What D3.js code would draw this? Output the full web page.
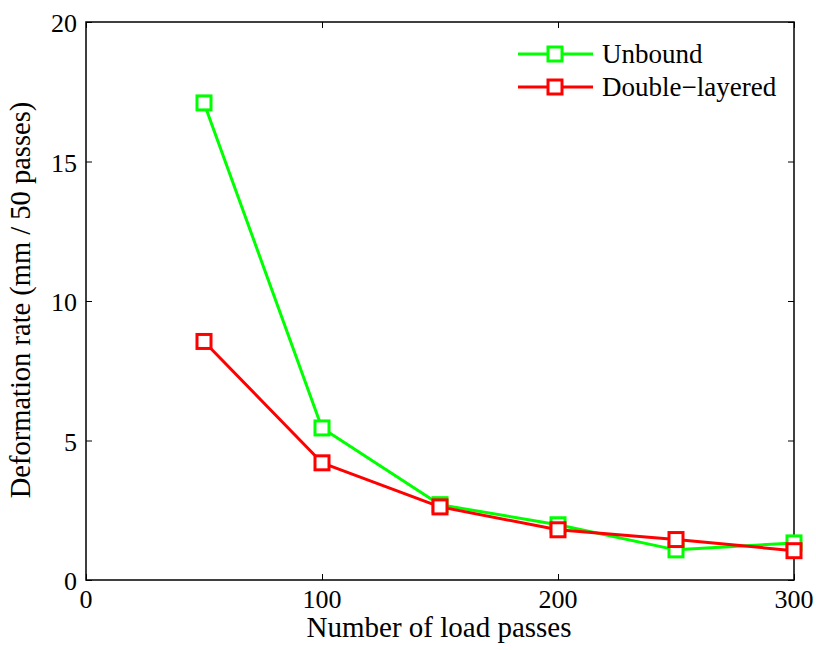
<!DOCTYPE html>
<html><head><meta charset="utf-8">
<script src="https://cdn.jsdelivr.net/npm/d3@7"></script>
<style>body{margin:0;background:#fff;}</style>
</head><body>
<svg id="c" width="816" height="650" font-family="'Liberation Serif', 'Times New Roman', Times, serif"></svg>
<script>
const passes = [50, 100, 150, 200, 250, 300];
const unbound = [17.1, 5.45, 2.7, 1.98, 1.08, 1.33];
const doubleLayered = [8.55, 4.2, 2.62, 1.8, 1.45, 1.05];
const xTicks = [0, 100, 200, 300];
const yTicks = [0, 5, 10, 15, 20];
const seriesNames = ["Unbound", "Double\u2212layered"];
const seriesColors = ["#00ff00", "#ff0000"];

const FONT = "'Liberation Serif', 'Times New Roman', Times, serif";
const svg = d3.select("#c");
const L = 86, R = 794, T = 22, B = 580;
const x = d3.scaleLinear().domain([0, 300]).range([L, R]);
const y = d3.scaleLinear().domain([0, 20]).range([B, T]);

svg.append("rect").attr("width", 816).attr("height", 650).attr("fill", "#fff");

const g = svg.append("g");
const tl = 6;
g.append("g").attr("transform", `translate(0,${B})`)
  .call(d3.axisBottom(x).tickValues(xTicks).tickSize(-tl).tickSizeOuter(0).tickFormat(""))
  .call(a => a.select(".domain").remove());
g.append("g").attr("transform", `translate(0,${T})`)
  .call(d3.axisTop(x).tickValues(xTicks).tickSize(-tl).tickSizeOuter(0).tickFormat(""))
  .call(a => a.select(".domain").remove());
g.append("g").attr("transform", `translate(${L},0)`)
  .call(d3.axisLeft(y).tickValues(yTicks).tickSize(-tl).tickSizeOuter(0).tickFormat(""))
  .call(a => a.select(".domain").remove());
g.append("g").attr("transform", `translate(${R},0)`)
  .call(d3.axisRight(y).tickValues(yTicks).tickSize(-tl).tickSizeOuter(0).tickFormat(""))
  .call(a => a.select(".domain").remove());
g.selectAll(".tick line").attr("stroke", "#000").attr("stroke-width", 1);

svg.append("rect").attr("x", L).attr("y", T).attr("width", R - L).attr("height", B - T)
  .attr("fill", "none").attr("stroke", "#000").attr("stroke-width", 1.5);

const txt = (sel, fs) => sel.attr("font-family", FONT).attr("font-size", fs).attr("fill", "#000");

svg.selectAll(".xl").data(xTicks).enter().append("text")
  .attr("x", d => x(d)).attr("y", 608).attr("text-anchor", "middle")
  .call(txt, 26).text(d => d);
svg.selectAll(".yl").data(yTicks).enter().append("text")
  .attr("x", 77).attr("y", d => y(d) + 10).attr("text-anchor", "end")
  .call(txt, 26).text(d => d);

svg.append("text").attr("x", 439).attr("y", 637).attr("text-anchor", "middle")
  .call(txt, 29).text("Number of load passes");
svg.append("text").attr("transform", "translate(30,300) rotate(-90)").attr("text-anchor", "middle")
  .call(txt, 28.5).text("Deformation rate (mm / 50 passes)");

const allSeries = [unbound, doubleLayered];
const line = d3.line().x((d, i) => x(passes[i])).y(d => y(d));
const ms = 14;
allSeries.forEach((s, k) => {
  svg.append("path").datum(s).attr("d", line).attr("fill", "none")
    .attr("stroke", seriesColors[k]).attr("stroke-width", 3).attr("stroke-linejoin", "round");
  svg.selectAll(".m" + k).data(s).enter().append("rect")
    .attr("x", (d, i) => x(passes[i]) - ms / 2).attr("y", d => y(d) - ms / 2)
    .attr("width", ms).attr("height", ms).attr("fill", "#fff")
    .attr("stroke", seriesColors[k]).attr("stroke-width", 3);
});

seriesNames.forEach((n, k) => {
  const ly = 54 + k * 33;
  svg.append("line").attr("x1", 518).attr("x2", 593).attr("y1", ly).attr("y2", ly)
    .attr("stroke", seriesColors[k]).attr("stroke-width", 3);
  svg.append("rect").attr("x", 555 - ms / 2).attr("y", ly - ms / 2).attr("width", ms).attr("height", ms)
    .attr("fill", "#fff").attr("stroke", seriesColors[k]).attr("stroke-width", 3);
  svg.append("text").attr("x", 602).attr("y", ly + 9).call(txt, 27).text(n);
});
</script>
</body></html>
